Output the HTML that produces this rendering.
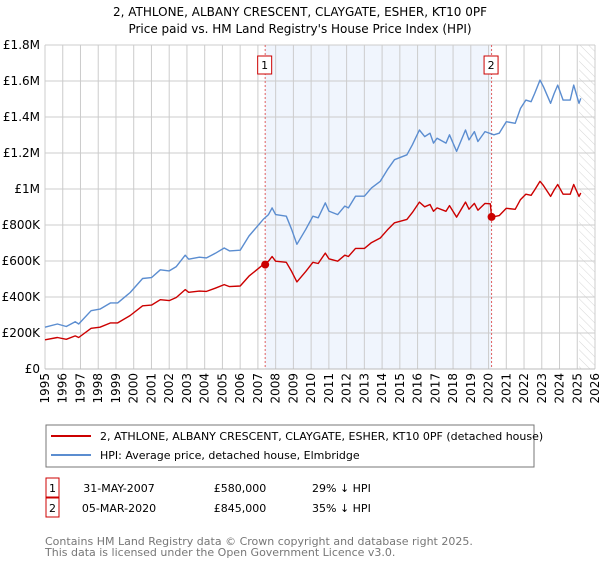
<!DOCTYPE html>
<html><head><meta charset="utf-8"><style>
body{margin:0;background:#fff;font-family:"DejaVu Sans","Liberation Sans",sans-serif;}
svg text{font-family:"DejaVu Sans","Liberation Sans",sans-serif;}
</style></head><body>
<svg id="c" width="600" height="560" xmlns="http://www.w3.org/2000/svg">
<defs><pattern id="hatch" width="6" height="6" patternUnits="userSpaceOnUse" patternTransform="rotate(-45)"><line x1="0" y1="0" x2="0" y2="6" stroke="#ccc" stroke-width="0.8"/></pattern></defs>
<text x="300" y="16" text-anchor="middle" font-size="12" fill="#000">2, ATHLONE, ALBANY CRESCENT, CLAYGATE, ESHER, KT10 0PF</text>
<text x="300" y="33" text-anchor="middle" font-size="12" fill="#000">Price paid vs. HM Land Registry's House Price Index (HPI)</text>
<g id="plot"></g>
<g>
<rect x="46" y="425" width="488" height="42" fill="#fff" stroke="#777" stroke-width="1"/>
<line x1="51" y1="436" x2="91" y2="436" stroke="#cc0000" stroke-width="2"/>
<text x="100" y="440" font-size="11">2, ATHLONE, ALBANY CRESCENT, CLAYGATE, ESHER, KT10 0PF (detached house)</text>
<line x1="51" y1="455" x2="91" y2="455" stroke="#5b8dd0" stroke-width="2"/>
<text x="100" y="459" font-size="11">HPI: Average price, detached house, Elmbridge</text>
</g>
<g font-size="11">
<rect x="46" y="478" width="13" height="19" fill="#fff" stroke="#cc0000"/>
<text x="52.5" y="492" text-anchor="middle">1</text>
<text x="119" y="492" text-anchor="middle">31-MAY-2007</text>
<text x="240" y="492" text-anchor="middle">£580,000</text>
<text x="312" y="492">29% ↓ HPI</text>
<rect x="46" y="498" width="13" height="19" fill="#fff" stroke="#cc0000"/>
<text x="52.5" y="512" text-anchor="middle">2</text>
<text x="119" y="512" text-anchor="middle">05-MAR-2020</text>
<text x="240" y="512" text-anchor="middle">£845,000</text>
<text x="312" y="512">35% ↓ HPI</text>
</g>
<text x="45" y="545" font-size="11" fill="#777">Contains HM Land Registry data © Crown copyright and database right 2025.</text>
<text x="45" y="556" font-size="11" fill="#777">This data is licensed under the Open Government Licence v3.0.</text>
</svg>
<script>
const hpiYears=[1995,1995.7,1996.2,1996.7,1996.9,1997.6,1998.1,1998.7,1999.1,1999.8,2000.5,2001,2001.5,2002,2002.4,2002.9,2003.1,2003.7,2004.1,2004.6,2005.1,2005.4,2006,2006.5,2007.3,2007.6,2007.8,2008,2008.6,2008.9,2009.2,2009.7,2010.1,2010.4,2010.8,2011,2011.5,2011.9,2012.1,2012.5,2013,2013.4,2013.9,2014.3,2014.7,2015.4,2015.7,2016.1,2016.4,2016.7,2016.9,2017.1,2017.6,2017.8,2018.2,2018.7,2018.9,2019.2,2019.4,2019.8,2020.3,2020.6,2021,2021.5,2021.8,2022.1,2022.4,2022.6,2022.9,2023.1,2023.5,2023.7,2023.9,2024.2,2024.6,2024.8,2025.1,2025.2];
const hpiValues=[232,250,236,263,250,324,333,367,367,425,503,508,551,545,569,632,610,621,617,643,672,656,660,739,831,858,895,858,849,776,693,776,849,840,923,877,858,905,895,960,960,1006,1043,1107,1163,1190,1245,1328,1291,1310,1255,1282,1255,1301,1209,1328,1273,1319,1264,1319,1301,1310,1374,1365,1448,1494,1485,1531,1605,1568,1476,1531,1577,1494,1494,1577,1476,1504];
const propYears=[1995,1995.7,1996.2,1996.7,1996.9,1997.6,1998.1,1998.7,1999.1,1999.8,2000.5,2001,2001.5,2002,2002.4,2002.9,2003.1,2003.7,2004.1,2004.6,2005.1,2005.4,2006,2006.5,2007.3,2007.6,2007.8,2008,2008.6,2008.9,2009.2,2009.7,2010.1,2010.4,2010.8,2011,2011.5,2011.9,2012.1,2012.5,2013,2013.4,2013.9,2014.3,2014.7,2015.4,2015.7,2016.1,2016.4,2016.7,2016.9,2017.1,2017.6,2017.8,2018.2,2018.7,2018.9,2019.2,2019.4,2019.8,2020.1,2020.17,2020.3,2020.6,2021,2021.5,2021.8,2022.1,2022.4,2022.6,2022.9,2023.1,2023.5,2023.7,2023.9,2024.2,2024.6,2024.8,2025.1,2025.2];
const propValues=[162,175,165,184,175,226,232,256,256,297,351,355,385,380,397,441,426,433,431,449,469,458,461,516,580,599,625,599,593,542,484,542,593,586,644,612,599,632,625,670,670,702,728,773,812,831,869,927,901,914,876,895,876,908,844,927,888,920,882,920,918,845,846,852,893,887,941,971,965,995,1043,1019,959,995,1025,971,971,1025,959,978];
const saleYears=[2007.41,2020.17];
const saleValues=[580,845];
const saleLabels=["1","2"];
const yTicks=[0,200,400,600,800,1000,1200,1400,1600,1800];
const yTickLabels=["£0","£200K","£400K","£600K","£800K","£1M","£1.2M","£1.4M","£1.6M","£1.8M"];
const xTicks=[1995,1996,1997,1998,1999,2000,2001,2002,2003,2004,2005,2006,2007,2008,2009,2010,2011,2012,2013,2014,2015,2016,2017,2018,2019,2020,2021,2022,2023,2024,2025,2026];
const L=45,R=595,T=45,B=369;
const xs=y=>L+(y-1995)/(2026-1995)*(R-L);
const ys=v=>B-v/1800*(B-T);
const NS="http://www.w3.org/2000/svg";
const g=document.getElementById('plot');
function mk(t,a){const e=document.createElementNS(NS,t);for(const k in a)e.setAttribute(k,a[k]);g.appendChild(e);return e;}
let r=mk('rect',{x:xs(saleYears[0]),y:T,width:xs(saleYears[1])-xs(saleYears[0]),height:B-T,fill:'#f0f5fd'});


let h=mk('rect',{x:xs(2025.1),y:T,width:R-xs(2025.1),height:B-T,fill:'url(#hatch)'});


yTicks.forEach((v,i)=>{
 const l=mk('line',{x1:L,x2:R,y1:ys(v),y2:ys(v),stroke:'#ccc','stroke-width':1});
 
 
 const t=mk('text',{x:L-5,y:ys(v)+4,'text-anchor':'end','font-size':12});
 t.textContent=yTickLabels[i];
 
 
});
xTicks.forEach(y=>{
 const l=mk('line',{x1:xs(y),x2:xs(y),y1:T,y2:B,stroke:'#ccc','stroke-width':1});
 
 
 const t=mk('text',{x:0,y:0,'text-anchor':'end','font-size':12,transform:`translate(${xs(y)+4},${B+4}) rotate(-90)`});
 t.textContent=y;
 
 
});
const ax=mk('line',{x1:L,x2:R,y1:B,y2:B,stroke:'#bbb','stroke-width':1});


saleYears.forEach((y,i)=>{
 const l=mk('line',{x1:xs(y),x2:xs(y),y1:T,y2:B,stroke:'#e06060','stroke-width':1,'stroke-dasharray':'2,2'});
 
 
});
function path(xa,va,color,name){
 const d=xa.map((x,i)=>(i?'L':'M')+xs(x).toFixed(1)+','+ys(va[i]).toFixed(1)).join('');
 const p=mk('path',{d:d,fill:'none',stroke:color,'stroke-width':1.4,'stroke-linejoin':'round'});
 
 
}
path(hpiYears,hpiValues,'#5b8dd0','hpi-line');
path(propYears,propValues,'#cc0000','property-price-line');
saleYears.forEach((y,i)=>{
 const c=mk('circle',{cx:xs(y),cy:ys(saleValues[i]),r:4,fill:'#cc0000'});
 
 
 const b=mk('rect',{x:xs(y)-7.5,y:56,width:14,height:18,fill:'#fff',stroke:'#cc0000'});
 
 
 const t=mk('text',{x:xs(y)-0.5,y:69,'text-anchor':'middle','font-size':11});
 t.textContent=saleLabels[i];
 
 
});
</script>
</body></html>
